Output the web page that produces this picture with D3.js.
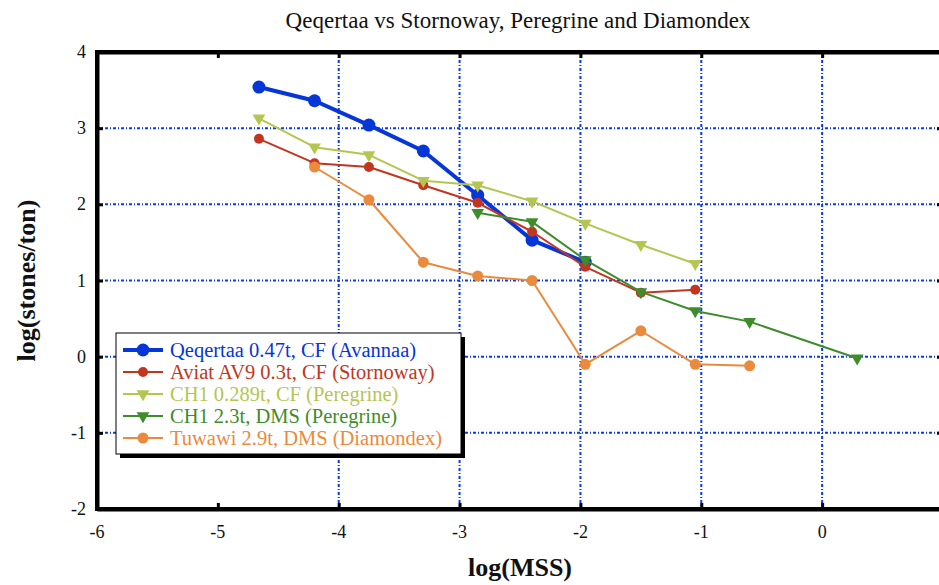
<!DOCTYPE html>
<html>
<head>
<meta charset="utf-8">
<script src="https://cdn.jsdelivr.net/npm/d3@7"></script>
<style>
  html, body { margin: 0; padding: 0; background: #fff; overflow: hidden; }
  svg text { font-family: "Liberation Serif", "Times New Roman", Times, "DejaVu Serif", "Noto Serif", serif; }
</style>
</head>
<body>
<svg id="chart" width="939" height="585"></svg>
<script>
// ---- data ----
const xTicks = [-6, -5, -4, -3, -2, -1, 0];
const yTicks = [-2, -1, 0, 1, 2, 3, 4];
const xGrid = [-4, -3, -2, -1, 0];
const yGrid = [-1, 0, 1, 2, 3];

const seriesNames = [
  "Qeqertaa 0.47t, CF (Avannaa)",
  "Aviat AV9 0.3t, CF (Stornoway)",
  "CH1 0.289t, CF (Peregrine)",
  "CH1 2.3t, DMS (Peregrine)",
  "Tuwawi 2.9t, DMS (Diamondex)"
];
const qeqX = [-4.66, -4.20, -3.75, -3.30, -2.85, -2.40, -1.96];
const qeqY = [3.54, 3.36, 3.04, 2.70, 2.12, 1.53, 1.24];
const aviatX = [-4.66, -4.20, -3.75, -3.30, -2.85, -2.40, -1.96, -1.50, -1.05];
const aviatY = [2.86, 2.54, 2.49, 2.25, 2.02, 1.64, 1.18, 0.84, 0.88];
const ch1cfX = [-4.66, -4.20, -3.75, -3.30, -2.85, -2.40, -1.96, -1.50, -1.05];
const ch1cfY = [3.13, 2.75, 2.65, 2.31, 2.25, 2.04, 1.75, 1.47, 1.22];
const ch1dmsX = [-2.85, -2.40, -1.96, -1.50, -1.05, -0.60, 0.29];
const ch1dmsY = [1.89, 1.77, 1.27, 0.85, 0.60, 0.46, -0.02];
const tuwX = [-4.20, -3.75, -3.30, -2.85, -2.40, -1.96, -1.50, -1.05, -0.60];
const tuwY = [2.49, 2.06, 1.24, 1.06, 1.00, -0.10, 0.34, -0.10, -0.12];

const colors = ["#0636d8", "#c23620", "#b4c650", "#3f8c2c", "#ea8a3c"];
const shapes = ["circle", "circleS", "triangle", "triangle", "circleM"];
const widths = [4, 2, 2, 2, 2];

const series = [
  [qeqX, qeqY], [aviatX, aviatY], [ch1cfX, ch1cfY], [ch1dmsX, ch1dmsY], [tuwX, tuwY]
].map((s, i) => ({
  name: seriesNames[i], color: colors[i], shape: shapes[i], width: widths[i],
  pts: s[0].map((x, j) => ({ x, y: s[1][j] }))
}));

// ---- layout ----
const svg = d3.select("#chart");
const x = d3.scaleLinear().domain([-6, 1]).range([97, 943]);
const y = d3.scaleLinear().domain([-2, 4]).range([509, 52]);

// title
svg.append("text").attr("x", 518).attr("y", 28).attr("text-anchor", "middle")
  .attr("font-size", 23).attr("fill", "#111")
  .text("Qeqertaa vs Stornoway, Peregrine and Diamondex");

// grid
const gridColor = "#0a3ae0";
svg.append("g").selectAll("line").data(xGrid).join("line")
  .attr("x1", d => x(d)).attr("x2", d => x(d))
  .attr("y1", y(4)).attr("y2", y(-2))
  .attr("stroke", gridColor).attr("stroke-width", 2).attr("stroke-dasharray", "3,2,1,2");
svg.append("g").selectAll("line").data(yGrid).join("line")
  .attr("x1", x(-6)).attr("x2", x(1))
  .attr("y1", d => y(d)).attr("y2", d => y(d))
  .attr("stroke", gridColor).attr("stroke-width", 2).attr("stroke-dasharray", "3,2,1,2");

// axes (frame with inward ticks)
const tickLen = 6;
svg.append("g").attr("transform", `translate(0,${y(-2)})`)
  .call(d3.axisBottom(x).tickValues(xTicks).tickSize(-tickLen).tickSizeOuter(0).tickFormat(""))
  .call(g => g.selectAll("line").attr("stroke-width", 3));
svg.append("g").attr("transform", `translate(0,${y(4)})`)
  .call(d3.axisTop(x).tickValues(xTicks).tickSize(-tickLen).tickSizeOuter(0).tickFormat(""))
  .call(g => g.selectAll("line").attr("stroke-width", 3));
svg.append("g").attr("transform", `translate(${x(-6)},0)`)
  .call(d3.axisLeft(y).tickValues(yTicks).tickSize(-tickLen).tickSizeOuter(0).tickFormat(""))
  .call(g => g.selectAll("line").attr("stroke-width", 3));
svg.append("g").attr("transform", `translate(${x(1)},0)`)
  .call(d3.axisRight(y).tickValues(yTicks).tickSize(-tickLen).tickSizeOuter(0).tickFormat(""))
  .call(g => g.selectAll("line").attr("stroke-width", 3));
svg.selectAll(".domain").attr("stroke", "#000").attr("stroke-width", 4);

// frame
svg.append("rect").attr("x", x(-6)).attr("y", y(4))
  .attr("width", x(1) - x(-6)).attr("height", y(-2) - y(4))
  .attr("fill", "none").attr("stroke", "#000").attr("stroke-width", 4);

// tick labels
const fmt = d => d < 0 ? "-" + Math.abs(d) : String(d);
svg.append("g").selectAll("text").data(xTicks).join("text")
  .attr("x", d => x(d)).attr("y", 538).attr("text-anchor", "middle")
  .attr("font-size", 18).attr("fill", "#111").text(fmt);
svg.append("g").selectAll("text").data(yTicks).join("text")
  .attr("x", 86).attr("y", d => y(d) + 6).attr("text-anchor", "end")
  .attr("font-size", 18).attr("fill", "#111").text(fmt);

// axis titles
svg.append("text").attr("x", 520).attr("y", 576).attr("text-anchor", "middle")
  .attr("font-size", 26).attr("font-weight", "bold").attr("fill", "#111").text("log(MSS)");
svg.append("text").attr("transform", `translate(35,${(y(4) + y(-2)) / 2}) rotate(-90)`)
  .attr("text-anchor", "middle")
  .attr("font-size", 26).attr("font-weight", "bold").attr("fill", "#111").text("log(stones/ton)");

// marker drawing
function drawMarker(sel, shape, color) {
  if (shape === "triangle") {
    sel.append("path")
      .attr("d", d3.symbol().type(d3.symbolTriangle).size(70)())
      .attr("transform", "rotate(180)")
      .attr("fill", color);
  } else {
    const r = shape === "circle" ? 6.5 : (shape === "circleM" ? 5.5 : 5);
    sel.append("circle").attr("r", r).attr("fill", color);
  }
}

// series
const line = d3.line().x(d => x(d.x)).y(d => y(d.y));
const plot = svg.append("g");
series.forEach(s => {
  plot.append("path").datum(s.pts).attr("d", line)
    .attr("fill", "none").attr("stroke", s.color).attr("stroke-width", s.width)
    .attr("stroke-linejoin", "round");
  plot.append("g").selectAll("g").data(s.pts).join("g")
    .attr("transform", d => `translate(${x(d.x)},${y(d.y)})`)
    .each(function () { drawMarker(d3.select(this), s.shape, s.color); });
});

// legend
const lg = svg.append("g");
const lx = 116, ly = 333, lw = 345, lh = 121;
lg.append("rect").attr("x", lx + 4).attr("y", ly + 4).attr("width", lw).attr("height", lh).attr("fill", "#000");
lg.append("rect").attr("x", lx).attr("y", ly).attr("width", lw).attr("height", lh)
  .attr("fill", "#fff").attr("stroke", "#000").attr("stroke-width", 1);
series.forEach((s, i) => {
  const yy = 350 + i * 22;
  lg.append("line").attr("x1", 123).attr("x2", 163).attr("y1", yy).attr("y2", yy)
    .attr("stroke", s.color).attr("stroke-width", s.width);
  const m = lg.append("g").attr("transform", `translate(143,${yy})`);
  drawMarker(m, s.shape, s.color);
  lg.append("text").attr("x", 170).attr("y", yy + 7).attr("font-size", 20.5)
    .attr("fill", s.color).text(s.name);
});
</script>
</body>
</html>
